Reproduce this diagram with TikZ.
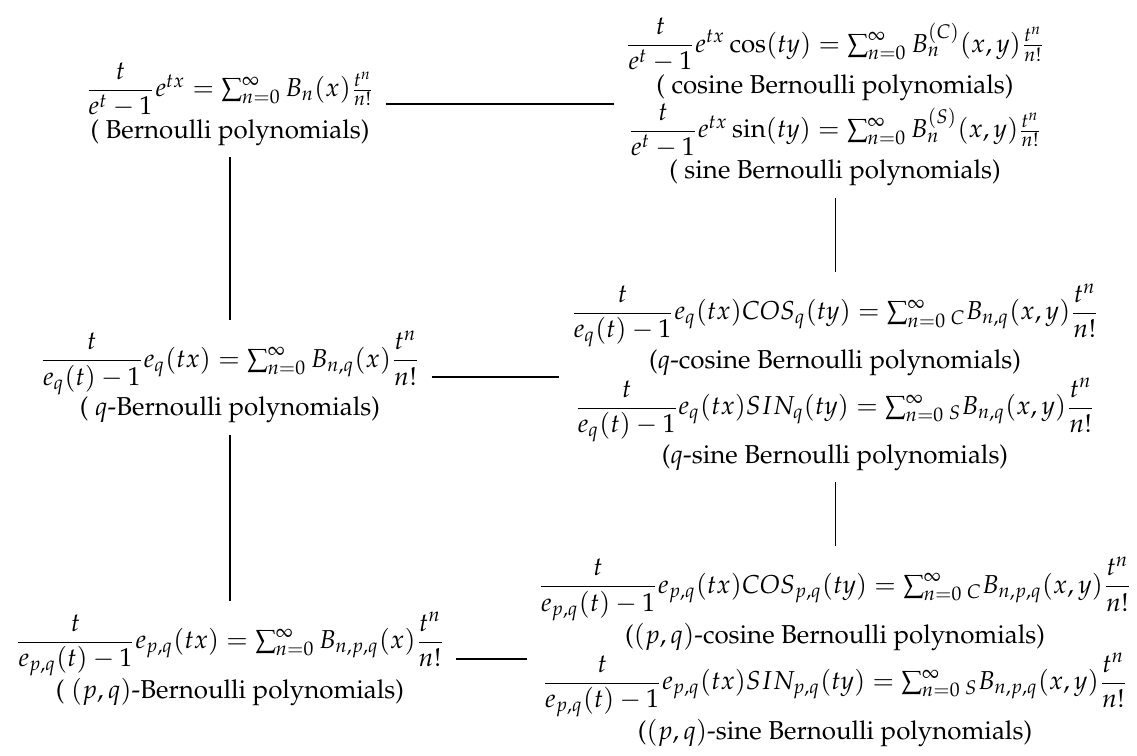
\documentclass[tikz,border=0pt]{standalone}
\usepackage[T1]{fontenc}
\usepackage{amsmath}
\usepackage{mathpazo}

\begin{document}
\begin{tikzpicture}[x=0.386pt, y=-0.386pt,
    grp/.style={align=center, inner sep=4.2pt},
    link/.style={thin}]
\useasboundingbox (0,0) rectangle (1137,755);

% Bernoulli
\node[grp] (bern) at (230,104)
  {$\dfrac{t}{e^t-1}e^{tx}=\sum_{n=0}^{\infty}B_n(x)\frac{t^n}{n!}$\\
   ( Bernoulli polynomials)};

% cosine / sine Bernoulli
\node[grp] (cs) at (835,102)
  {$\dfrac{t}{e^t-1}e^{tx}\cos(ty)=\sum_{n=0}^{\infty}B_n^{(C)}(x,y)\frac{t^n}{n!}$\\
   ( cosine Bernoulli polynomials)\\
   $\dfrac{t}{e^t-1}e^{tx}\sin(ty)=\sum_{n=0}^{\infty}B_n^{(S)}(x,y)\frac{t^n}{n!}$\\
   ( sine Bernoulli polynomials)};

% q-Bernoulli
\node[grp] (qbern) at (230,377)
  {$\dfrac{t}{e_q(t)-1}e_q(tx)=\sum_{n=0}^{\infty}B_{n,q}(x)\dfrac{t^n}{n!}$\\
   ( $q$-Bernoulli polynomials)};

% q-cosine / q-sine Bernoulli
\node[grp] (qcs) at (835,377)
  {$\dfrac{t}{e_q(t)-1}e_q(tx)COS_q(ty)=\sum_{n=0}^{\infty}{}_{C}B_{n,q}(x,y)\dfrac{t^n}{n!}$\\
   ($q$-cosine Bernoulli polynomials)\\
   $\dfrac{t}{e_q(t)-1}e_q(tx)SIN_q(ty)=\sum_{n=0}^{\infty}{}_{S}B_{n,q}(x,y)\dfrac{t^n}{n!}$\\
   ($q$-sine Bernoulli polynomials)};

% (p,q)-Bernoulli
\node[grp] (pqbern) at (230,659)
  {$\dfrac{t}{e_{p,q}(t)-1}e_{p,q}(tx)=\sum_{n=0}^{\infty}B_{n,p,q}(x)\dfrac{t^n}{n!}$\\
   ( $(p,q)$-Bernoulli polynomials)};

% (p,q)-cosine / (p,q)-sine Bernoulli
\node[grp] (pqcs) at (835,652)
  {$\dfrac{t}{e_{p,q}(t)-1}e_{p,q}(tx)COS_{p,q}(ty)=\sum_{n=0}^{\infty}{}_{C}B_{n,p,q}(x,y)\dfrac{t^n}{n!}$\\
   ($(p,q)$-cosine Bernoulli polynomials)\\
   $\dfrac{t}{e_{p,q}(t)-1}e_{p,q}(tx)SIN_{p,q}(ty)=\sum_{n=0}^{\infty}{}_{S}B_{n,p,q}(x,y)\dfrac{t^n}{n!}$\\
   ($(p,q)$-sine Bernoulli polynomials)};

% links
\draw[link] (bern.east) -- (bern.east -| cs.west);
\draw[link] (qbern) -- (qcs);
\draw[link] (pqbern.east) -- (pqbern.east -| pqcs.west);
\draw[link] (bern) -- (qbern);
\draw[link] (qbern) -- (pqbern);
\draw[link] (cs) -- (qcs);
\draw[link] (qcs) -- (pqcs);
\end{tikzpicture}
\end{document}
